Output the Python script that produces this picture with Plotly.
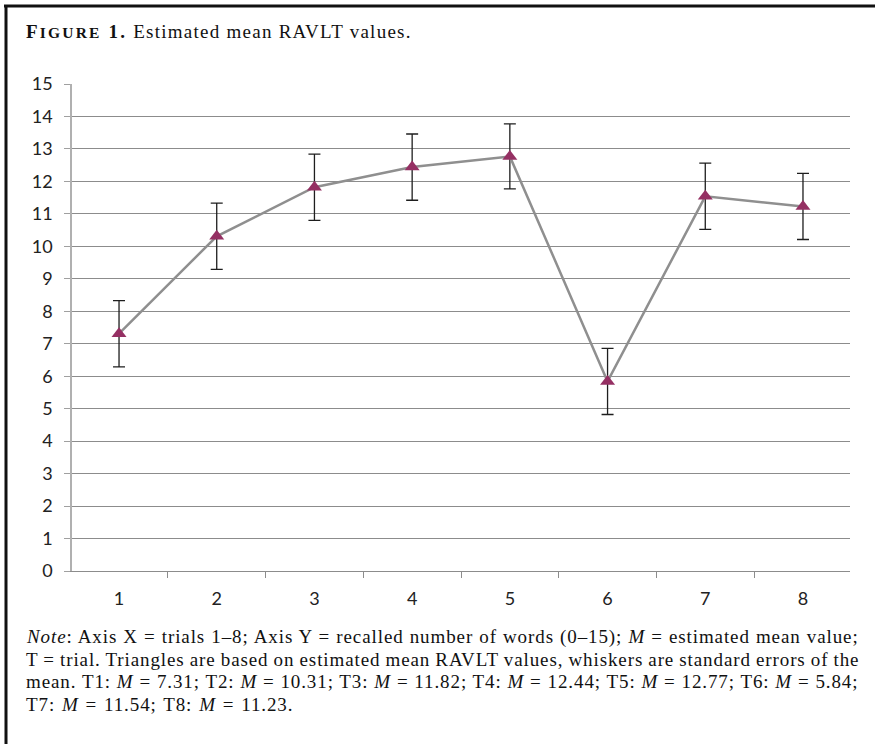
import plotly.graph_objects as go

# Trials and estimated mean RAVLT recall (words), with standard errors
trials = ["1", "2", "3", "4", "5", "6", "7", "8"]
mean_words = [7.31, 10.31, 11.82, 12.44, 12.77, 5.84, 11.54, 11.23]
std_error = [1.02, 1.02, 1.02, 1.02, 1.0, 1.02, 1.02, 1.02]
y_ticks = list(range(0, 16))

W, H = 875, 744
L, R, T, B = 72, 25, 84, 173

def px_x(px):
    return (px - L) / (W - L - R)

def px_y(py):
    return (H - B - py) / (H - T - B)

fig = go.Figure()
fig.add_trace(go.Scatter(
    x=trials, y=mean_words,
    mode="lines+markers",
    line=dict(color="#8f8f8f", width=2.5),
    marker=dict(symbol="triangle-up", size=13, color="#953063"),
    error_y=dict(type="data", array=std_error, visible=True,
                 color="#1e1e1e", thickness=1.3, width=6),
    showlegend=False,
))

tick_font = dict(family="Lato", size=18, color="#222")
fig.update_layout(
    width=W, height=H,
    margin=dict(l=L, r=R, t=T, b=B),
    paper_bgcolor="white", plot_bgcolor="white",
    xaxis=dict(
        type="category", tickson="boundaries",
        ticks="outside", ticklen=6, tickcolor="#8c8c8c",
        showgrid=False, showline=True, linecolor="#8c8c8c", linewidth=1,
        tickfont=tick_font, ticklabelstandoff=11,
    ),
    yaxis=dict(
        range=[0, 15], tickvals=y_ticks,
        ticks="outside", ticklen=6, tickcolor="#a0a0a0",
        showgrid=True, gridcolor="#8c8c8c", gridwidth=1,
        showline=True, linecolor="#b0b0b0", linewidth=1.5,
        zeroline=False,
        tickfont=tick_font, ticklabelstandoff=8,
    ),
)

# Figure frame (top and left rules)
fig.add_shape(type="line", xref="paper", yref="paper",
              x0=px_x(4), x1=px_x(W + 2), y0=px_y(6), y1=px_y(6),
              line=dict(color="#111", width=3))
fig.add_shape(type="line", xref="paper", yref="paper",
              x0=px_x(6), x1=px_x(6), y0=px_y(5), y1=px_y(H + 2),
              line=dict(color="#111", width=3))

serif = "Liberation Serif"
fig.add_annotation(
    xref="paper", yref="paper", x=px_x(24), y=px_y(31),
    xanchor="left", yanchor="middle", showarrow=False,
    text=("<span style='letter-spacing:1.25px'><b><span style='letter-spacing:2.2px'>F"
          "<span style='font-size:15.5px'>IGURE</span> 1.</span></b> "
          "Estimated mean RAVLT values.</span>"),
    font=dict(family=serif, size=19, color="#111"),
)

note_lines = [
    "<i>Note</i>: Axis X = trials 1–8; Axis Y = recalled number of words (0–15); <i>M</i> = estimated mean value;",
    "T = trial. Triangles are based on estimated mean RAVLT values, whiskers are standard errors of the",
    "mean. T1: <i>M</i> = 7.31; T2: <i>M</i> = 10.31; T3: <i>M</i> = 11.82; T4: <i>M</i> = 12.44; T5: <i>M</i> = 12.77; T6: <i>M</i> = 5.84;",
    "T7: <i>M</i> = 11.54; T8: <i>M</i> = 11.23.",
]
# word spacing per line so the first three lines run to the right margin
word_gap = [0.45, -0.55, 0.2, 1.2]
for i, line in enumerate(note_lines):
    fig.add_annotation(
        xref="paper", yref="paper", x=px_x(24), y=px_y(637 + 22.4 * i),
        xanchor="left", yanchor="middle", showarrow=False,
        text=(f"<span style='letter-spacing:0.9px;word-spacing:{word_gap[i]}px'>"
              f"{line}</span>"),
        font=dict(family=serif, size=19, color="#111"),
    )

fig.write_html("out.html")
